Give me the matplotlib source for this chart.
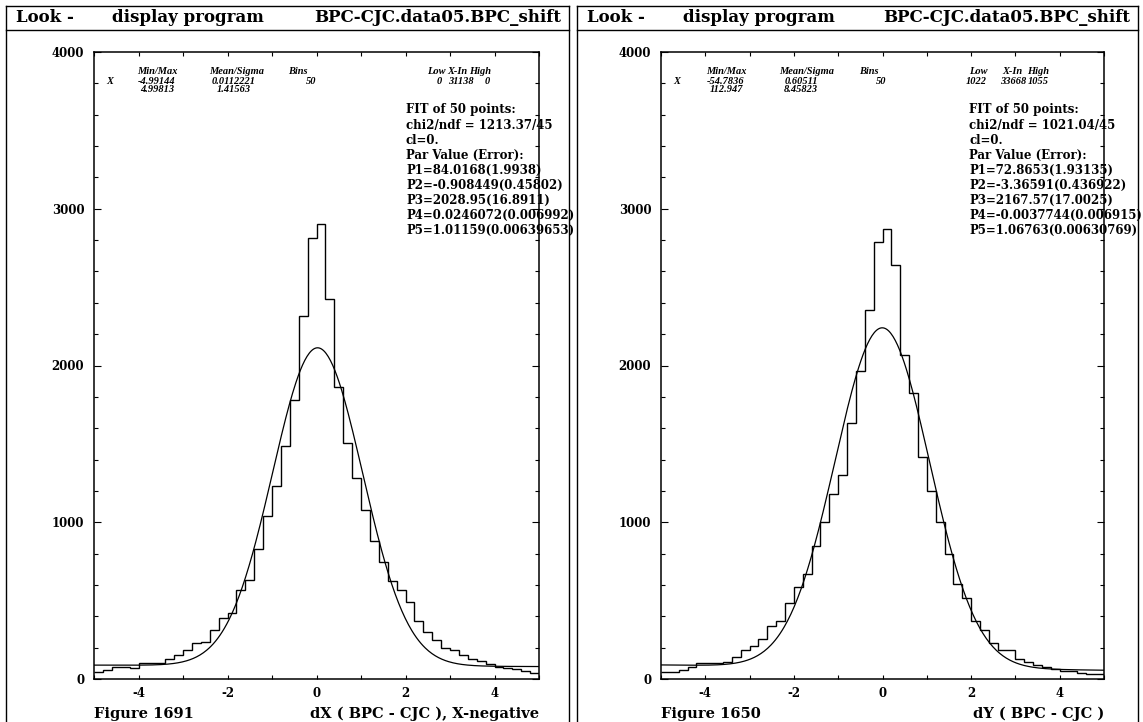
import numpy as np
import matplotlib
matplotlib.use("Agg")
import matplotlib.pyplot as plt
from matplotlib.lines import Line2D

plt.rcParams["axes.unicode_minus"] = False

W, H = 1143, 722

# ---- data -------------------------------------------------------------
bin_edges = np.linspace(-5, 5, 51)

dx_counts = [47, 60, 75, 75, 68, 100, 100, 105, 129, 150,
             182, 229, 236, 315, 386, 418, 568, 632, 830, 1040,
             1230, 1484, 1781, 2313, 2816, 2905, 2426, 1866, 1506, 1280,
             1080, 880, 744, 628, 568, 493, 371, 300, 251, 199,
             182, 150, 129, 114, 96, 79, 71, 64, 54, 41]

dy_counts = [43, 43, 58, 79, 101, 101, 105, 111, 139, 186,
             208, 257, 337, 369, 482, 590, 671, 850, 1000, 1180,
             1302, 1631, 1962, 2356, 2788, 2873, 2639, 2064, 1826, 1414,
             1200, 1000, 800, 607, 514, 371, 311, 230, 186, 182,
             129, 107, 90, 79, 64, 54, 54, 39, 32, 32]

# fit parameters P1..P5 and errors (background + slope + gaussian)
dx_par = [84.0168, -0.908449, 2028.95, 0.0246072, 1.01159]
dx_err = [1.9938, 0.45802, 16.8911, 0.006992, 0.00639653]
dy_par = [72.8653, -3.36591, 2167.57, -0.0037744, 1.06763]
dy_err = [1.93135, 0.436922, 17.0025, 0.006915, 0.00630769]
dx_chi2 = "1213.37/45"
dy_chi2 = "1021.04/45"

# statistics box
dx_minmax = ["-4.99144", "4.99813"]
dx_meansig = ["0.0112221", "1.41563"]
dx_lxh = ["0", "31138", "0"]
dy_minmax = ["-54.7836", "112.947"]
dy_meansig = ["0.60511", "8.45823"]
dy_lxh = ["1022", "33668", "1055"]
n_bins = "50"

dx_fig = "Figure 1691"
dx_title = "dX ( BPC - CJC ), X-negative"
dy_fig = "Figure 1650"
dy_title = "dY ( BPC - CJC )"
header = ["Look -", "display program", "BPC-CJC.data05.BPC_shift"]

BOLD = dict(family="DejaVu Serif", fontweight="bold", color="black")
STAT = dict(family="Liberation Serif", fontweight="bold", style="italic",
            fontsize=7.5, color="black", va="center", ha="center")

fig = plt.figure(figsize=(W / 100, H / 100), dpi=100)


def fx(x):
    return x / W


def fy(y):
    return 1 - y / H


def line(xs, ys, lw=1.0):
    fig.add_artist(Line2D([fx(v) for v in xs], [fy(v) for v in ys],
                          transform=fig.transFigure, color="black", lw=lw))


def gauss_fit(x, p):
    return p[0] + p[1] * x + p[2] * np.exp(-0.5 * ((x - p[3]) / p[4]) ** 2)


def draw_panel(fl, fr, al, ar, fitx, xs, counts, par, err, chi2,
               minmax, meansig, lxh, figlabel, title):
    # outer frame and header
    line([fl, fl], [6, 722], lw=1.0)
    line([fr, fr], [6, 722], lw=1.0)
    line([fl, fr], [6, 6], lw=1.0)
    line([fl, fr], [30, 30], lw=1.0)
    fig.text(fx(fl + 10), fy(18), header[0], fontsize=12, ha="left",
             va="center", **BOLD)
    fig.text(fx(fl + 106), fy(18), header[1], fontsize=12, ha="left",
             va="center", **BOLD)
    fig.text(fx(fr - 8), fy(18), header[2], fontsize=12, ha="right",
             va="center", **BOLD)

    top, bot = 52, 679
    ax = fig.add_axes([fx(al), fy(bot), (ar - al) / W, (bot - top) / H])
    ax.stairs(counts, bin_edges, baseline=None, color="black", lw=1.0)
    xx = np.linspace(-5, 5, 400)
    ax.plot(xx, gauss_fit(xx, par), color="black", lw=0.9)
    ax.set_xlim(-5, 5)
    ax.set_ylim(0, 4000)
    ax.set_xticks([-4, -2, 0, 2, 4])
    ax.set_xticks([-5, -3, -1, 1, 3, 5], minor=True)
    ax.set_yticks([0, 1000, 2000, 3000, 4000])
    ax.set_yticks(np.arange(0, 4001, 200), minor=True)
    ax.tick_params(which="both", direction="in", top=True, right=True,
                   width=0.8, color="black")
    ax.tick_params(axis="x", which="both", length=3)
    ax.tick_params(axis="y", which="major", length=5, pad=7)
    ax.tick_params(axis="y", which="minor", length=3)
    ax.tick_params(axis="x", which="major", pad=6)
    for lab in ax.get_xticklabels() + ax.get_yticklabels():
        lab.set_fontfamily("DejaVu Serif")
        lab.set_fontweight("bold")
        lab.set_fontsize(8.5)
    for s in ax.spines.values():
        s.set_linewidth(1.1)

    # statistics box
    r1, r2, r3 = 71, 81, 90
    fig.text(fx(xs[0]), fy(r2), "X", **STAT)
    fig.text(fx(xs[1]), fy(r1), "Min/Max", **STAT)
    fig.text(fx(xs[1]), fy(r2), minmax[0], **STAT)
    fig.text(fx(xs[1]), fy(r3), minmax[1], **STAT)
    fig.text(fx(xs[2]), fy(r1), "Mean/Sigma", **STAT)
    fig.text(fx(xs[3]), fy(r2), meansig[0], **STAT)
    fig.text(fx(xs[3]), fy(r3), meansig[1], **STAT)
    fig.text(fx(xs[4]), fy(r1), "Bins", **STAT)
    fig.text(fx(xs[5]), fy(r2), n_bins, **STAT)
    fig.text(fx(xs[6]), fy(r1), "Low", **STAT)
    fig.text(fx(xs[7]), fy(r1), "X-In", **STAT)
    fig.text(fx(xs[8]), fy(r1), "High", **STAT)
    fig.text(fx(xs[9]), fy(r2), lxh[0], **STAT)
    fig.text(fx(xs[10]), fy(r2), lxh[1], **STAT)
    fig.text(fx(xs[11]), fy(r2), lxh[2], **STAT)

    # fit result text
    rows = ["FIT of 50 points:", "chi2/ndf = " + chi2, "cl=0.",
            "Par Value (Error):"]
    rows += [f"P{i + 1}={v}({e})" for i, (v, e) in enumerate(zip(par, err))]
    for i, t in enumerate(rows):
        fig.text(fx(fitx), fy(110 + 15 * i), t, fontsize=8.5, ha="left",
                 va="center", **BOLD)

    fig.text(fx(al), fy(714), figlabel, fontsize=10.5, ha="left",
             va="center", **BOLD)
    fig.text(fx(ar), fy(714), title, fontsize=10.5, ha="right",
             va="center", **BOLD)


draw_panel(6, 569, 94, 539, 406,
           [110, 157, 237, 234, 298, 311, 436, 457, 480, 439, 461, 487],
           dx_counts, dx_par, dx_err, dx_chi2,
           dx_minmax, dx_meansig, dx_lxh, dx_fig, dx_title)
draw_panel(577, 1138, 661, 1104, 969,
           [677, 726, 807, 801, 869, 881, 978, 1012, 1038, 976, 1013, 1038],
           dy_counts, dy_par, dy_err, dy_chi2,
           dy_minmax, dy_meansig, dy_lxh, dy_fig, dy_title)

fig.savefig("out.png", dpi=100)
